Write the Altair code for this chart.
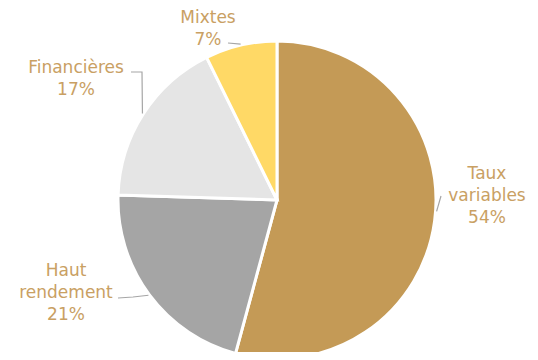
import math
import altair as alt
import pandas as pd

categories = ["Taux variables", "Haut rendement", "Financières", "Mixtes"]
values = [54.2, 21.3, 17.2, 7.3]
labels = ["Taux\nvariables\n54%", "Haut\nrendement\n21%", "Financières\n17%", "Mixtes\n7%"]
colors = ["#C49A56", "#A5A5A5", "#E5E5E5", "#FFD966"]

# layout (pixels in plot area); y is the first text line's centre
CX, CY, R = 269, 192, 159
label_pos = [(479, 166), (58, 263), (68, 60), (200, 10)]
leader_bends = [[(433, 188)], [(125, 289), (110, 290)], [(134, 64), (123, 64)], [(220, 35)]]
leader_start_shift = [-3.5, 0, 0, 0]  # degrees

df = pd.DataFrame({"cat": categories, "val": values, "order": range(len(categories))})
total = sum(values)

lab_rows, line_rows = [], []
cum = 0.0
for i, (c, v) in enumerate(zip(categories, values)):
    mid = (cum + v / 2) / total * 2 * math.pi + math.radians(leader_start_shift[i])
    cum += v
    lab_rows.append({"cat": c, "txt": labels[i], "x": label_pos[i][0], "y": label_pos[i][1]})
    sx = CX + (R + 1) * math.sin(mid)
    sy = CY - (R + 1) * math.cos(mid)
    pts = [(sx, sy)] + leader_bends[i]
    for k, (px, py) in enumerate(pts):
        line_rows.append({"cat": c, "k": k, "x": px, "y": py})

lab_df = pd.DataFrame(lab_rows)
line_df = pd.DataFrame(line_rows)

pie = alt.Chart(df).mark_arc(outerRadius=R, stroke="white", strokeWidth=3).encode(
    theta=alt.Theta("val:Q", stack=True),
    order=alt.Order("order:Q"),
    color=alt.Color("cat:N", scale=alt.Scale(domain=categories, range=colors), legend=None),
    x=alt.value(CX),
    y=alt.value(CY),
)

leaders = alt.Chart(line_df).mark_line(color="#A6A6A6", strokeWidth=1.2).encode(
    x=alt.X("x:Q", scale=None, axis=None),
    y=alt.Y("y:Q", scale=None, axis=None),
    detail="cat:N",
    order="k:Q",
)

text = alt.Chart(lab_df).mark_text(
    font="Verdana, 'DejaVu Sans', sans-serif", fontSize=17, color="#C9A063", lineBreak="\n",
    lineHeight=22, align="center", baseline="middle",
).encode(
    x=alt.X("x:Q", scale=None, axis=None),
    y=alt.Y("y:Q", scale=None, axis=None),
    text="txt:N",
)

chart = alt.layer(pie, leaders, text).properties(
    width=522, height=344, padding=0, autosize=alt.AutoSizeParams(type="none")
).configure_view(stroke=None)

chart.save("out.html", embed_options={"renderer": "svg", "actions": False})
